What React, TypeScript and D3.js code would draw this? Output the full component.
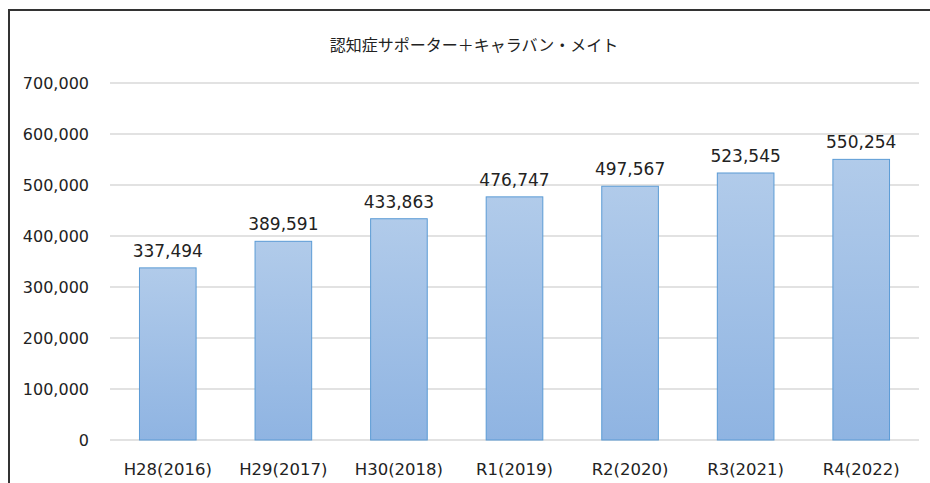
import React from "react";
import * as d3 from "d3";

const categories = ["H28(2016)", "H29(2017)", "H30(2018)", "R1(2019)", "R2(2020)", "R3(2021)", "R4(2022)"];
const values = [337494, 389591, 433863, 476747, 497567, 523545, 550254];
const yTicks = [0, 100000, 200000, 300000, 400000, 500000, 600000, 700000];
const title = "認知症サポーター＋キャラバン・メイト";

const W = 930, H = 483;
const left = 110, right = 919, top = 83, bottom = 440;
const font = "'DejaVu Sans', Verdana, sans-serif";

export default function App() {
  const x = d3.scaleBand().domain(categories).range([left, right]).paddingInner(0.51).paddingOuter(0.255);
  const y = d3.scaleLinear().domain([0, 700000]).range([bottom, top]);
  const fmt = d3.format(",");
  return (
    <svg width={W} height={H} style={{ position: "absolute", left: 0, top: 0 }}>
      <defs>
        <linearGradient id="barGrad" x1="0" y1="0" x2="0" y2="1">
          <stop offset="0" stopColor="#b1cbea" />
          <stop offset="1" stopColor="#8fb4e2" />
        </linearGradient>
      </defs>
      <rect x={0} y={0} width={W} height={H} fill="#fff" />
      <rect x={9} y={10} width={W + 20} height={H + 20} fill="none" stroke="#333" strokeWidth={2} />
      <text x={474} y={51} textAnchor="middle" fontFamily="'Noto Sans CJK JP', sans-serif" fontSize={16} fill="#222">{title}</text>
      {yTicks.map((t) => (
        <g key={t}>
          <line x1={left} x2={right} y1={y(t)} y2={y(t)} stroke="#d9d9d9" strokeWidth={1.3} />
          <text x={89} y={y(t) + 6} textAnchor="end" fontFamily={font} fontSize={16} fill="#222">{fmt(t)}</text>
        </g>
      ))}
      {categories.map((c, i) => (
        <g key={c}>
          <rect x={x(c)} y={y(values[i])} width={x.bandwidth()} height={bottom - y(values[i])} fill="url(#barGrad)" stroke="#5b9bd5" strokeWidth={1} />
          <text x={(x(c) as number) + x.bandwidth() / 2} y={y(values[i]) - 11} textAnchor="middle" fontFamily={font} fontSize={17} fill="#222">{fmt(values[i])}</text>
          <text x={(x(c) as number) + x.bandwidth() / 2} y={475} textAnchor="middle" fontFamily={font} fontSize={16.5} fill="#222">{c}</text>
        </g>
      ))}
    </svg>
  );
}
